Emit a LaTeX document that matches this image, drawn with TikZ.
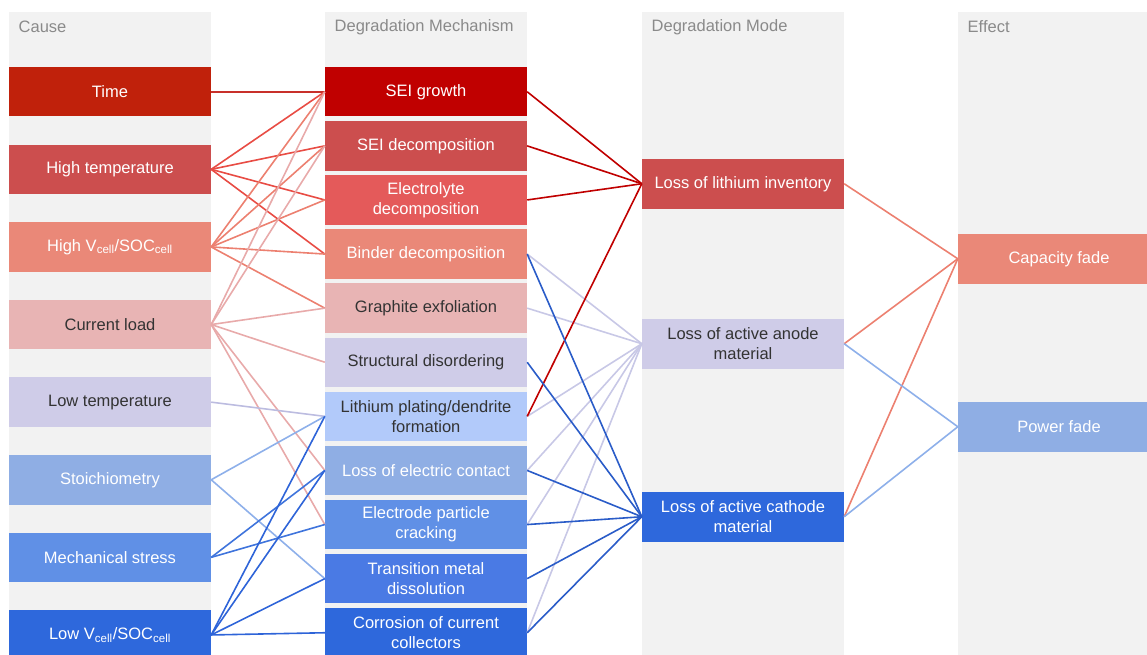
\documentclass[tikz,border=0pt]{standalone}
\usepackage{fontspec}
\setmainfont{Liberation Sans}
\definecolor{colgray}{HTML}{F2F2F2}
\definecolor{hdrgray}{HTML}{8A8A8A}
\definecolor{darktext}{HTML}{333333}
% box colours
\definecolor{bTime}{HTML}{C0210B}
\definecolor{bRed}{HTML}{CC4E4E}
\definecolor{bRedB}{HTML}{E45A5A}
\definecolor{bSalmon}{HTML}{EA8878}
\definecolor{bPink}{HTML}{E8B4B4}
\definecolor{bLav}{HTML}{CFCCE8}
\definecolor{bLtBlue}{HTML}{B2CAFA}
\definecolor{bSky}{HTML}{8FAEE4}
\definecolor{bMid}{HTML}{6090E6}
\definecolor{bMid2}{HTML}{4A7AE4}
\definecolor{bBlue}{HTML}{2E68DC}
\definecolor{bDeepRed}{HTML}{C00000}
% line colours
\definecolor{lTime}{HTML}{C8302A}
\definecolor{lHT}{HTML}{E84C44}
\definecolor{lHV}{HTML}{EC8070}
\definecolor{lCL}{HTML}{E8AAAA}
\definecolor{lLT}{HTML}{BCBCE0}
\definecolor{lSt}{HTML}{8EB0EA}
\definecolor{lMS}{HTML}{3F74DC}
\definecolor{lLV}{HTML}{2E64D8}
\definecolor{lLLI}{HTML}{C00000}
\definecolor{lAn}{HTML}{C8C8E6}
\definecolor{lCa}{HTML}{2A5CC8}
\definecolor{lCap}{HTML}{EC8070}
\definecolor{lPow}{HTML}{8EB0EA}
\begin{document}
\begin{tikzpicture}[x=1pt,y=-1pt,
  box/.style={minimum width=202pt, minimum height=49.5pt, inner sep=0pt, align=center,
    font=\fontsize{16.5}{20}\selectfont, text=white},
  dk/.style={text=darktext},
  hdr/.style={anchor=west, text=hdrgray, font=\fontsize{16.5}{20}\selectfont, inner sep=0pt},
  ln/.style={line width=1.6pt},
]
\useasboundingbox (0,0) rectangle (1147,655);
% column backgrounds
\fill[colgray] (9,12) rectangle (211,655);
\fill[colgray] (325,12) rectangle (527,655);
\fill[colgray] (642,12) rectangle (844,655);
\fill[colgray] (958,12) rectangle (1160,655);
% headers
\node[hdr] (h1) at (18.5,27) {Cause};
\node[hdr] (h2) at (334.5,27) {Degradation Mechanism};
\node[hdr] (h3) at (651.5,27) {Degradation Mode};
\node[hdr] (h4) at (967.5,27) {Effect};
% causes
\node[box, fill=bTime] (c1) at (110,91.75) {Time};
\node[box, fill=bRed] (c2) at (110,169.35) {High temperature};
\node[box, fill=bSalmon] (c3) at (110,246.95) {High V\textsubscript{cell}/SOC\textsubscript{cell}};
\node[box, fill=bPink, dk] (c4) at (110,324.55) {Current load};
\node[box, fill=bLav, dk] (c5) at (110,402.15) {Low temperature};
\node[box, fill=bSky] (c6) at (110,479.75) {Stoichiometry};
\node[box, fill=bMid] (c7) at (110,557.35) {Mechanical stress};
\node[box, fill=bBlue] (c8) at (110,634.95) {Low V\textsubscript{cell}/SOC\textsubscript{cell}};
% mechanisms
\node[box, fill=bDeepRed] (m1) at (426,91.75) {SEI growth};
\node[box, fill=bRed] (m2) at (426,145.85) {SEI decomposition};
\node[box, fill=bRedB] (m3) at (426,199.95) {Electrolyte\\decomposition};
\node[box, fill=bSalmon] (m4) at (426,254.05) {Binder decomposition};
\node[box, fill=bPink, dk] (m5) at (426,308.15) {Graphite exfoliation};
\node[box, fill=bLav, dk] (m6) at (426,362.25) {Structural disordering};
\node[box, fill=bLtBlue, dk] (m7) at (426,416.35) {Lithium plating/dendrite\\formation};
\node[box, fill=bSky] (m8) at (426,470.45) {Loss of electric contact};
\node[box, fill=bMid] (m9) at (426,524.55) {Electrode particle\\cracking};
\node[box, fill=bMid2] (m10) at (426,578.65) {Transition metal\\dissolution};
\node[box, fill=bBlue] (m11) at (426,632.75) {Corrosion of current\\collectors};
% modes
\node[box, fill=bRed] (d1) at (743,183.75) {Loss of lithium inventory};
\node[box, fill=bLav, dk] (d2) at (743,343.75) {Loss of active anode\\material};
\node[box, fill=bBlue] (d3) at (743,516.75) {Loss of active cathode\\material};
% effects
\node[box, fill=bSalmon] (e1) at (1059,258.75) {Capacity fade};
\node[box, fill=bSky] (e2) at (1059,426.75) {Power fade};
% cause -> mechanism
\draw[ln, lTime] (c1.east) -- (m1.west);
\foreach \m in {m1,m2,m3,m4} \draw[ln, lHT] (c2.east) -- (\m.west);
\foreach \m in {m1,m2,m3,m4,m5} \draw[ln, lHV] (c3.east) -- (\m.west);
\foreach \m in {m1,m2,m5,m6,m8,m9} \draw[ln, lCL] (c4.east) -- (\m.west);
\draw[ln, lLT] (c5.east) -- (m7.west);
\foreach \m in {m7,m10} \draw[ln, lSt] (c6.east) -- (\m.west);
\foreach \m in {m8,m9} \draw[ln, lMS] (c7.east) -- (\m.west);
\foreach \m in {m7,m8,m10,m11} \draw[ln, lLV] (c8.east) -- (\m.west);
% mechanism -> mode
\foreach \m in {m4,m5,m7,m8,m9,m11} \draw[ln, lAn] (\m.east) -- (d2.west);
\foreach \m in {m1,m2,m3,m7} \draw[ln, lLLI] (\m.east) -- (d1.west);
\foreach \m in {m4,m6,m8,m9,m10,m11} \draw[ln, lCa] (\m.east) -- (d3.west);
% mode -> effect
\foreach \d in {d1,d2,d3} \draw[ln, lCap] (\d.east) -- (e1.west);
\foreach \d in {d2,d3} \draw[ln, lPow] (\d.east) -- (e2.west);
\end{tikzpicture}
\end{document}
